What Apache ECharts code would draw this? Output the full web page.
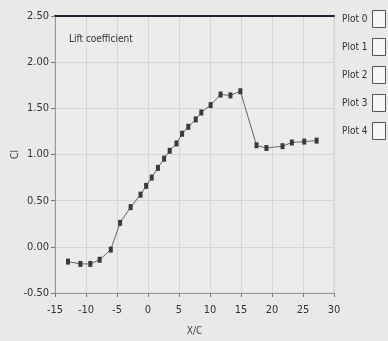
<!DOCTYPE html>
<html lang="en">
<head>
  <meta charset="utf-8">
  <title>Lift coefficient</title>
  <style>
    * { margin: 0; padding: 0; }
    body { background: #e9e9e9; }
    #chart-container { width: 388px; height: 341px; }
  </style>
</head>
<body>
  <div id="chart-container"></div>
  <script src="https://fastly.jsdelivr.net/npm/echarts@6/dist/echarts.min.js"></script>
  <script>
    var dom = document.getElementById('chart-container');
    var myChart = echarts.init(dom, null, { renderer: 'canvas' });

    // X/C positions and lift coefficient
    const xc = [-12.9, -10.9, -9.3, -7.8, -6.0, -4.5, -2.8, -1.2, -0.3, 0.6,
      1.6, 2.6, 3.5, 4.6, 5.5, 6.5, 7.7, 8.6, 10.1, 11.7,
      13.3, 14.9, 17.5, 19.1, 21.7, 23.2, 25.2, 27.2];
    const cl = [-0.16, -0.185, -0.185, -0.14, -0.03, 0.26, 0.43, 0.565, 0.66, 0.75,
      0.855, 0.955, 1.04, 1.12, 1.225, 1.30, 1.38, 1.455, 1.535, 1.65,
      1.64, 1.685, 1.10, 1.07, 1.09, 1.13, 1.14, 1.15];
    const plotNames = ['Plot 0', 'Plot 1', 'Plot 2', 'Plot 3', 'Plot 4'];

    const font = "'DejaVu Sans Condensed', 'Liberation Sans Narrow', sans-serif";

    var points = xc.map(function (x, i) { return [x, cl[i]]; });

    var series = plotNames.map(function (name, i) {
      return {
        name: name,
        type: 'line',
        data: i === 0 ? points : [],
        symbol: 'rect',
        symbolSize: [4, 6],
        itemStyle: { color: '#3a3a3a' },
        lineStyle: { color: '#666', width: 1 },
        animation: false
      };
    });

    var option = {
      backgroundColor: '#e9e9e9',
      textStyle: { fontFamily: font },
      title: {
        text: 'Lift coefficient',
        left: 64, top: 29,
        textStyle: { fontSize: 10, fontWeight: 'normal', color: '#333', fontFamily: font }
      },
      legend: {
        data: plotNames,
        orient: 'vertical',
        right: -3, top: 5,
        align: 'right',
        itemWidth: 13, itemHeight: 17, itemGap: 10,
        icon: 'rect',
        itemStyle: { color: '#f6f6f6', borderColor: '#555', borderWidth: 1 },
        lineStyle: { width: 0 },
        selectedMode: false,
        textStyle: { fontSize: 10, color: '#333', fontFamily: font }
      },
      grid: {
        left: 55, right: 54, top: 16, bottom: 48,
        outerBoundsMode: 'none',
        show: true, backgroundColor: '#ececec', borderColor: '#ccc'
      },
      xAxis: [{
        type: 'value', min: -15, max: 30, interval: 5,
        name: 'X/C', nameLocation: 'middle', nameGap: 33, nameMoveOverlap: false,
        nameTextStyle: { fontSize: 10, color: '#444', fontFamily: font },
        axisLine: { onZero: false, lineStyle: { color: '#999' } },
        axisTick: { show: true, length: 4, lineStyle: { color: '#777' } },
        axisLabel: { fontSize: 11, color: '#333', margin: 12, fontFamily: font },
        splitLine: { lineStyle: { color: '#d6d6d6' } }
      }, {
        type: 'value', min: -15, max: 30, position: 'top',
        axisLine: { show: true, onZero: false, lineStyle: { color: '#1c2233', width: 2 } },
        axisTick: { show: false }, axisLabel: { show: false }, splitLine: { show: false }
      }],
      yAxis: {
        type: 'value', min: -0.5, max: 2.5, interval: 0.5,
        name: 'Cl', nameLocation: 'middle', nameGap: 35, nameMoveOverlap: false,
        nameTextStyle: { fontSize: 10, color: '#444', fontFamily: font },
        axisLine: { show: true, onZero: false, lineStyle: { color: '#999' } },
        axisTick: { show: true, length: 4, lineStyle: { color: '#777' } },
        axisLabel: { fontSize: 11, color: '#333', margin: 6, fontFamily: font, formatter: function (v) { return v.toFixed(2); } },
        splitLine: { lineStyle: { color: '#d6d6d6' } }
      },
      series: series
    };

    myChart.setOption(option);
    window.addEventListener('resize', myChart.resize);
  </script>
</body>
</html>
